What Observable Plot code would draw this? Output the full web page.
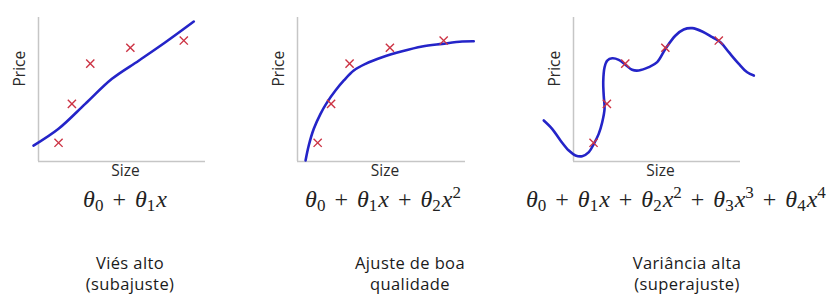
<!DOCTYPE html>
<html><head><meta charset="utf-8">
<script src="https://cdn.jsdelivr.net/npm/d3@7"></script>
<script src="https://cdn.jsdelivr.net/npm/@observablehq/plot@0.6"></script>
<style>
body{margin:0;background:#fff;}
#root{position:relative;width:827px;height:296px;overflow:hidden;background:#fff;}
#root > svg{position:absolute;top:0;margin:0;overflow:visible;}
</style></head><body><div id="root"></div>
<script>
// Training points (same in all three panels)
const sizes = [12, 20, 31, 55, 87];
const prices = [13, 40, 68, 79, 84];

// Fitted curves
const linearX = [-3, 12, 28, 44, 60, 76, 93];
const linearY = [11, 22.7, 40, 57.4, 70, 82.8, 97.2];

const quadX = [4.8, 6.7, 9.7, 13.7, 17.7, 22.6, 27.6, 33.5, 40.5, 50.4, 62.3, 74.2, 86.1, 98, 104.9];
const quadY = [0.7, 11.1, 22.7, 33.1, 41.2, 49.3, 56.3, 63.2, 67.8, 72.4, 76.6, 79.9, 81.7, 83.3, 83.5];

const quartX = [-17.8, -12.8, -7.8, -2.8, 1.2, 5.2, 9.2, 12.2, 15.1, 17.2, 18.6, 18.1, 17.8, 18.6, 20.2, 23.2, 27.1, 31.1, 35.1, 39.1, 45.1, 50.1, 55.1, 61.1, 66.0, 71.1, 77.1, 83.1, 88.0, 93.0, 99.0, 104.0, 108.0];
const quartY = [28.5, 22.7, 14.6, 7.6, 4.2, 3.7, 6.5, 12.3, 19.2, 27.3, 36.6, 45.8, 55.1, 65.5, 70.1, 71.7, 70.6, 67.2, 63.7, 63.2, 65.5, 69.0, 78.3, 87.5, 91.7, 92.6, 90.3, 86.3, 82.8, 75.9, 67.8, 62.0, 59.7];

const axisLabels = {x: "Size", y: "Price"};
const degrees = [1, 2, 4];
const captions = [["Viés alto", "(subajuste)"], ["Ajuste de boa", "qualidade"], ["Variância alta", "(superajuste)"]];

const points = sizes.map((s, i) => ({size: s, price: prices[i]}));
const toRows = (xs, ys) => xs.map((x, i) => ({size: x, price: ys[i]}));
const curves = [toRows(linearX, linearY), toRows(quadX, quadY), toRows(quartX, quartY)];

const root = document.getElementById("root");
const layouts = [
  {left: 0, width: 270, marginLeft: 38, marginRight: 65},
  {left: 270, width: 260, marginLeft: 27, marginRight: 65},
  {left: 530, width: 297, marginLeft: 43, marginRight: 87}
];
const sans = "'Open Sans', 'Liberation Sans', sans-serif";

curves.forEach((curve, i) => {
  const L = layouts[i];
  const chart = Plot.plot({
    width: L.width, height: 175,
    marginLeft: L.marginLeft, marginRight: L.marginRight, marginTop: 17, marginBottom: 14,
    x: {domain: [0, 100], axis: null},
    y: {domain: [0, 100], axis: null},
    style: {background: "transparent", overflow: "visible"},
    marks: [
      Plot.ruleX([0], {stroke: "#c6c6c6", strokeWidth: 1.5}),
      Plot.ruleY([0], {stroke: "#c6c6c6", strokeWidth: 1.5}),
      Plot.line(curve, {x: "size", y: "price", stroke: "#2424c8", strokeWidth: 2.6, curve: "catmull-rom"}),
      Plot.dot(points, {x: "size", y: "price", symbol: "times", r: 3.8, stroke: "#cc3344", strokeWidth: 1.4}),
      Plot.text([axisLabels.y], {frameAnchor: "left", rotate: -90, dx: -18, dy: -3, fontSize: 15.5, fill: "#2a2a2a", fontFamily: sans}),
      Plot.text([axisLabels.x], {frameAnchor: "bottom", dx: 3.5, dy: 14, fontSize: 15.5, fill: "#2a2a2a", fontFamily: sans})
    ]
  });
  chart.style.left = L.left + "px";
  root.appendChild(chart);
});

// Overlay: formulas and captions
const overlay = d3.select(root).append("svg")
  .attr("width", 827).attr("height", 296)
  .style("left", "0px").style("pointer-events", "none");

function formula(degree, x, anchor) {
  const t = overlay.append("text")
    .attr("x", x).attr("y", 207).attr("text-anchor", anchor)
    .attr("font-family", "'Liberation Serif', 'DejaVu Serif', serif")
    .attr("font-size", 24).attr("fill", "#222")
    .style("white-space", "pre");
  for (let k = 0; k <= degree; k++) {
    if (k > 0) t.append("tspan").attr("dx", 3).text(" + ");
    const th = t.append("tspan").attr("font-style", "italic").text("θ");
    if (k > 0) th.attr("dx", 3);
    t.append("tspan").attr("font-size", 17).attr("baseline-shift", -4).text(String(k));
    if (k > 0) t.append("tspan").attr("font-style", "italic").attr("dx", 1).text("x");
    if (k > 1) t.append("tspan").attr("font-size", 17).attr("baseline-shift", 9).text(String(k));
  }
}
formula(degrees[0], 125, "middle");
formula(degrees[1], 383, "middle");
formula(degrees[2], 526, "start");

const capCenters = [130, 410, 687];
captions.forEach((lines, i) => {
  lines.forEach((line, j) => {
    overlay.append("text")
      .attr("x", capCenters[i]).attr("y", 269 + 21 * j)
      .attr("text-anchor", "middle")
      .attr("font-family", sans).attr("font-size", 16.5)
      .style("letter-spacing", "0.4px")
      .attr("fill", "#1a1a1a").text(line);
  });
});
</script></body></html>
